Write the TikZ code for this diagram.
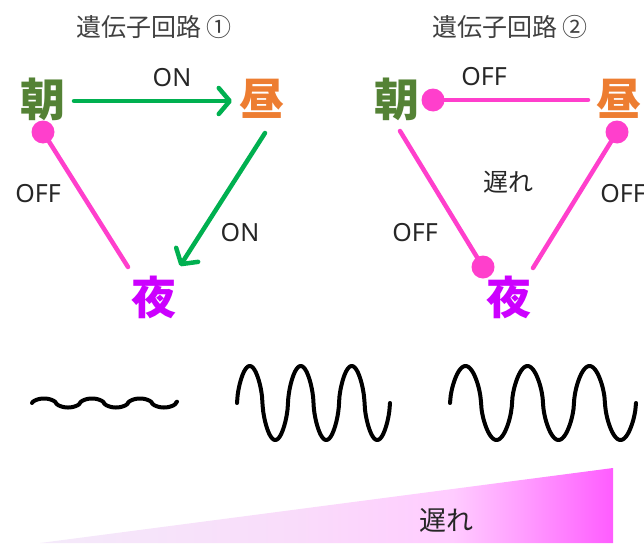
\documentclass[tikz,border=0pt]{standalone}
\usepackage{fontspec}
\setmainfont{Noto Sans}
\newfontfamily\jp{Noto Sans CJK JP}
\usetikzlibrary{arrows.meta}
\definecolor{asaG}{HTML}{548235}
\definecolor{hiruO}{HTML}{ED7D31}
\definecolor{yoruP}{HTML}{CC00FF}
\definecolor{onG}{HTML}{00B050}
\definecolor{offP}{HTML}{FF3FCC}
\definecolor{txt}{HTML}{262626}
\definecolor{ttl}{HTML}{404040}
\definecolor{g0}{HTML}{F4EAFA}
\definecolor{g1}{HTML}{F9DCFA}
\definecolor{g2}{HTML}{FFCCFF}
\definecolor{g3}{HTML}{FF9EFF}
\definecolor{g4}{HTML}{FF5CFF}
\pgfdeclarehorizontalshading{delayshade}{100bp}{color(0bp)=(g0); color(25bp)=(g0); color(47bp)=(g1); color(61bp)=(g2); color(67bp)=(g3); color(75bp)=(g4); color(100bp)=(g4)}
\pgfmathdeclarefunction{sqsin}{1}{%
  \pgfmathparse{sin(#1)}\let\qa\pgfmathresult
  \pgfmathparse{\qa*pow(abs(\qa)+0.002,-0.4)}%
}
\tikzset{
  kanji/.style={font=\jp\bfseries\fontsize{45}{45}\selectfont, inner sep=0pt},
  title/.style={font=\jp\fontsize{25}{25}\selectfont, text=ttl, inner sep=0pt},
  lbl/.style={font=\fontsize{25}{25}\selectfont, text=txt, inner sep=0pt},
  jlbl/.style={font=\jp\fontsize{25}{25}\selectfont, text=txt, inner sep=0pt},
  onarrow/.style={draw=onG, line width=4.5pt, line cap=round,
     -{Straight Barb[length=11pt,width=26pt,line width=4.5pt,round]}},
  offline/.style={draw=offP, line width=4.5pt, line cap=round},
  offdot/.style={circle, fill=offP, minimum size=23pt, inner sep=0pt},
  wave/.style={draw=black, line width=4pt, line cap=round, line join=round},
}
\begin{document}
\begin{tikzpicture}[x=1pt,y=-1pt]
\useasboundingbox (0,0) rectangle (644,543);
\clip (0,0) rectangle (644,543);
% titles
\node[title] (t1) at (154,27) {遺伝子回路 ①};
\node[title] (t2) at (510,27) {遺伝子回路 ②};
% circuit 1
\node[kanji, text=asaG] (asa1) at (43,99) {朝};
\node[kanji, text=hiruO] (hiru1) at (262,99) {昼};
\node[kanji, text=yoruP] (yoru1) at (154,297) {夜};
\coordinate (a1r) at (74,101);
\coordinate (h1l) at (232,101);
\coordinate (h1b) at (265,133);
\coordinate (y1t) at (180,266);
\node[offdot] (d1) at (43,132) {};
\coordinate (y1l) at (128,267);
\draw[onarrow] (a1r) -- (h1l);
\draw[onarrow] (h1b) -- (y1t);
\draw[offline] (d1.center) -- (y1l);
\node[lbl] (on1) at (172,78) {ON};
\node[lbl] (on2) at (240,233) {ON};
\node[lbl] (off1) at (38,194) {OFF};
% circuit 2
\node[kanji, text=asaG] (asa2) at (397,99) {朝};
\node[kanji, text=hiruO] (hiru2) at (619,99) {昼};
\node[kanji, text=yoruP] (yoru2) at (509,297) {夜};
\node[offdot] (d2) at (433,100) {};
\node[offdot] (d3) at (483,267) {};
\node[offdot] (d4) at (617,132) {};
\coordinate (h2l) at (588,100);
\coordinate (a2b) at (400,131);
\coordinate (y2r) at (533,268);
\draw[offline] (d2.center) -- (h2l);
\draw[offline] (a2b) -- (d3.center);
\draw[offline] (y2r) -- (d4.center);
\node[lbl] (off2) at (484,77) {OFF};
\node[lbl] (off3) at (415,233) {OFF};
\node[lbl] (off4) at (623,194) {OFF};
\node[jlbl] (dl1) at (508,182) {遅れ};
% waves
\draw[wave, domain=0:145, samples=200, variable=\t] plot ({32+\t},{403-4.5*sqsin(7.5*\t)});
\draw[wave, domain=0:153, samples=240, variable=\t] plot ({237+\t},{403-37*sqsin(7.0588*\t)});
\draw[wave, domain=0:186, samples=260, variable=\t] plot ({450+\t},{403-37*sqsin(5.8065*\t)});
% delay wedge
\shade[shading=delayshade] (40,543) -- (613,468) -- (613,543) -- cycle;
\node[jlbl, font=\jp\fontsize{27}{27}\selectfont] (dl2) at (446,520) {遅れ};
\end{tikzpicture}
\end{document}
